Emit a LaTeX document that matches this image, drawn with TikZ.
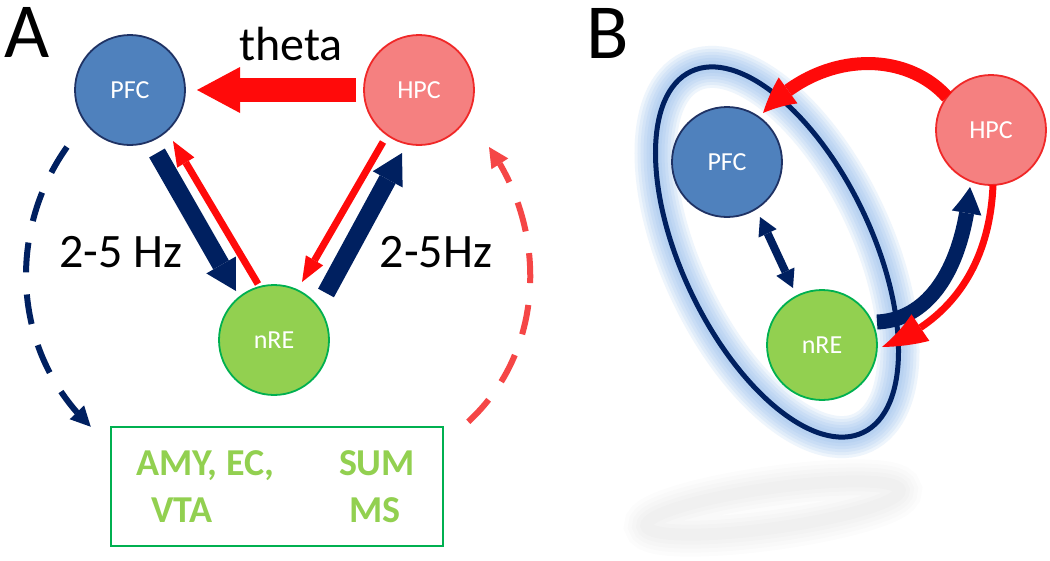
\documentclass[tikz,border=0pt]{standalone}
\usepackage{fontspec}
\setmainfont{Carlito}
\usetikzlibrary{arrows.meta,bending,calc}
\definecolor{navy}{RGB}{0,32,96}
\definecolor{redarr}{RGB}{255,10,10}
\definecolor{reddash}{RGB}{245,70,70}
\definecolor{pfcfill}{RGB}{79,129,189}
\definecolor{pfcline}{RGB}{31,50,100}
\definecolor{hpcfill}{RGB}{245,128,128}
\definecolor{hpcline}{RGB}{240,40,40}
\definecolor{nrefill}{RGB}{146,208,80}
\definecolor{nreline}{RGB}{0,176,80}
\definecolor{glowc}{RGB}{140,185,235}
\newcommand\myfs[1]{\fontsize{#1}{#1}\selectfont}
\begin{document}
\begin{tikzpicture}[x=1pt,y=-1pt,
  region/.style={circle,minimum size=110pt,inner sep=0pt,line width=1.8pt,text=white,font=\myfs{26}},
  pfc/.style={region,fill=pfcfill,draw=pfcline},
  hpc/.style={region,fill=hpcfill,draw=hpcline},
  nre/.style={region,fill=nrefill,draw=nreline},
  lbl/.style={inner sep=0pt,anchor=base,font=\myfs{48}},
  panel/.style={inner sep=0pt,anchor=base,font=\myfs{78}},
  boxtxt/.style={inner sep=0pt,anchor=base,text=nrefill,font=\bfseries\myfs{38}},
  navythick/.style={draw=navy,line width=18pt,-{Triangle[length=30pt,width=34pt,line width=0pt]}},
  redthin/.style={draw=redarr,line width=7pt,-{Triangle[length=25pt,width=20pt,line width=0pt]}},
  dashnavy/.style={draw=navy,line width=6pt,dash pattern=on 30pt off 22pt,-{Triangle[length=20pt,width=20pt,line width=0pt]}},
  dashred/.style={draw=reddash,line width=6pt,dash pattern=on 30pt off 22pt,-{Triangle[length=20pt,width=20pt,line width=0pt]}},
]
\useasboundingbox (0,0) rectangle (1050,560);
\fill[white] (0,0) rectangle (1050,560);

% ---------- Panel A ----------
\node[panel] (labA) at (27,57) {A};
\node[pfc] (pfcA) at (130,90) {PFC};
\node[hpc] (hpcA) at (419,90) {HPC};
\node[nre] (nreA) at (274,340) {nRE};
\node[draw=nreline,line width=2.5pt,minimum width=332pt,minimum height=119pt,inner sep=0pt] (box) at (277,486.5) {};
\node[boxtxt] (t1) at (205,475) {AMY, EC,};
\node[boxtxt] (t2) at (182,522) {VTA};
\node[boxtxt] (t3) at (377,475) {SUM};
\node[boxtxt] (t4) at (375,522) {MS};

\node[lbl] (theta) at (291,60) {theta};
\node[lbl] (hzL) at (121,267) {2-5 Hz};
\node[lbl] (hzR) at (436,267) {2-5Hz};

\draw[draw=redarr,line width=24pt,-{Triangle[length=43pt,width=46pt,line width=0pt]}]
  ($(hpcA)+(-63,0)$) -- ($(pfcA)+(67,0)$);
\draw[navythick] ($(pfcA)+(27,63)$) -- ($(nreA)+(-38,-49)$);
\draw[redthin] ($(nreA)+(-16,-56)$) -- ($(pfcA)+(43,51)$);
\draw[redthin] ($(hpcA)+(-36,52)$) -- ($(nreA)+(28,-58)$);
\draw[navythick] ($(nreA)+(52,-47)$) -- ($(hpcA)+(-17,63)$);

\draw[dashnavy] ($(pfcA)+(-63,57)$) .. controls (8,230) and (10,350) .. ($(box.north west)+(-19,1)$);
\draw[dashred] ($(box.north east)+(24,-4)$) .. controls (546,350) and (548,230) .. ($(hpcA)+(70,57)$);

% ---------- Panel B ----------
\node[panel] (labB) at (608,58) {B};

% faint shadow
\foreach \w in {44,36,28,20,12}
  \draw[black,opacity=0.012,line width=\w pt,rotate around={8:(773,508)}] (773,508) ellipse [x radius=128, y radius=20];
% glow + ellipse
\foreach \w in {42,36,30,24,18,12}
  \draw[glowc,opacity=0.14,line width=\w pt,rotate around={-64.5:(777,252)}] (777,252) ellipse [x radius=200, y radius=95];
\draw[navy,line width=5pt,rotate around={-64.5:(777,252)}] (777,252) ellipse [x radius=200, y radius=95];

\node[pfc] (pfcB) at (727,162) {PFC};
\node[hpc] (hpcB) at (991,130) {HPC};
\node[nre] (nreB) at (822,345) {nRE};

\draw[draw=redarr,line width=13pt,-{Triangle[bend,length=35pt,width=32pt,line width=0pt]}]
  ($(hpcB)+(-44,-33)$) .. controls (905,50) and (820,50) .. ($(pfcB)+(36,-49)$);
\draw[draw=navy,line width=15pt,-{Triangle[bend,length=27pt,width=30pt,line width=0pt]}]
  ($(nreB)+(55,-23)$) .. controls (925,320) and (962,275) .. ($(hpcB)+(-21,57)$);
\draw[draw=redarr,line width=7pt,-{Triangle[bend,length=45pt,width=32pt,line width=0pt]}]
  ($(hpcB)+(2,55)$) .. controls (990,260) and (955,320) .. ($(nreB)+(60,2)$);
\draw[draw=navy,line width=8pt,{Triangle[length=18pt,width=20pt,line width=0pt]}-{Triangle[length=18pt,width=20pt,line width=0pt]}]
  ($(pfcB)+(33,55)$) -- ($(nreB)+(-29,-57)$);
\end{tikzpicture}
\end{document}
